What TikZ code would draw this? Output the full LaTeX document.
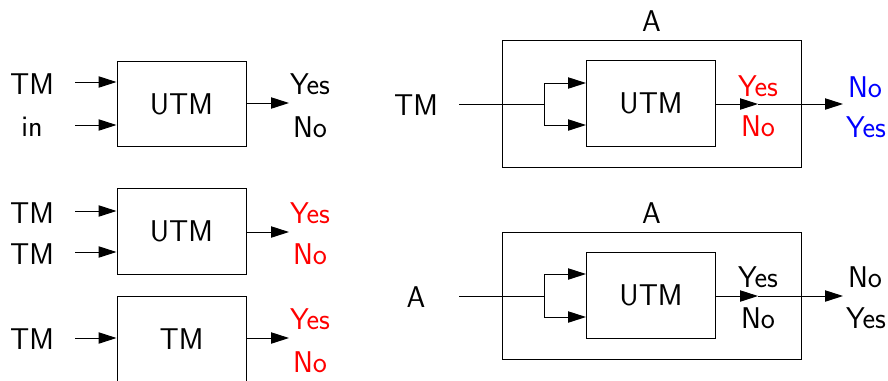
\documentclass[tikz,border=0pt]{standalone}
\usepackage{fontspec}
\usetikzlibrary{arrows.meta,positioning}

\begin{document}
\begin{tikzpicture}[
    x=0.75pt,y=-0.75pt,
    font=\sffamily\fontsize{22.5}{27}\selectfont,
    box/.style={draw,line width=0.75pt,inner sep=0pt},
    utm/.style={box,minimum width=96.75pt,minimum height=64pt},
    outer/.style={box,minimum width=224.25pt,minimum height=95.25pt},
    lbl/.style={inner sep=0pt},
    wire/.style={line width=0.75pt},
    arr/.style={-{Triangle[length=13.5pt,width=8.5pt]},line width=0.75pt},
  ]
    \clip (0,0) rectangle (888,380);

    % left column
    \node[utm] (utmA) at (181.5,104) {UTM};
    \node[utm] (utmB) at (181.5,231.5) {UTM};
    \node[box,minimum width=96.75pt,minimum height=90pt] (tmC) at (181.5,356) {};
    \node[lbl] (tmCtxt) at (181.5,339) {TM};

    \node[lbl] (tmA) at (32,84) {TM};
    \node[lbl] (inA) at (32,127) {in};
    \node[lbl] (tmB1) at (32,213) {TM};
    \node[lbl] (tmB2) at (32,254) {TM};
    \node[lbl] (tmC1) at (32,339) {TM};

    \coordinate (inA1) at (75,82);
    \coordinate (inA2) at (75,125);
    \coordinate (inB1) at (75,211);
    \coordinate (inB2) at (75,252);
    \coordinate (inC1) at (75,338);
    \draw[arr] (inA1) -- (inA1 -| utmA.west);
    \draw[arr] (inA2) -- (inA2 -| utmA.west);
    \draw[arr] (inB1) -- (inB1 -| utmB.west);
    \draw[arr] (inB2) -- (inB2 -| utmB.west);
    \draw[arr] (inC1) -- (inC1 -| tmC.west);

    \coordinate (outA) at (289,103);
    \coordinate (outB) at (289,232);
    \coordinate (outC) at (289,338);
    \draw[arr] (outA -| utmA.east) -- (outA);
    \draw[arr] (outB -| utmB.east) -- (outB);
    \draw[arr] (outC -| tmC.east) -- (outC);

    \node[lbl] (yesA) at (310,84) {Yes};
    \node[lbl] (noA) at (310,127) {No};
    \node[lbl,text=red] (yesB) at (310,213) {Yes};
    \node[lbl,text=red] (noB) at (310,254) {No};
    \node[lbl,text=red] (yesC) at (310,319) {Yes};
    \node[lbl,text=red] (noC) at (310,362) {No};

    % right, top
    \node[outer] (aTop) at (651.5,103.5) {};
    \node[lbl,above=6pt of aTop] (aTopLbl) {A};
    \node[utm] (utmD) at (651,103.5) {UTM};
    \node[lbl] (tmD) at (416,105) {TM};
    \coordinate (inD) at (459,104);
    \coordinate (brD1) at (544,83);
    \coordinate (brD2) at (544,125);
    \draw[wire] (inD) -- (inD -| brD1);
    \draw[wire] (brD1) -- (brD2);
    \draw[arr] (brD1) -- (brD1 -| utmD.west);
    \draw[arr] (brD2) -- (brD2 -| utmD.west);
    \coordinate (midD) at (758,104);
    \coordinate (outD) at (843,104);
    \draw[arr] (midD -| utmD.east) -- (midD);
    \draw[arr] (midD) -- (outD);
    \node[lbl,text=red] (yesD) at (758,86) {Yes};
    \node[lbl,text=red] (noD) at (758,126) {No};
    \node[lbl,text=blue] (noD2) at (865,87) {No};
    \node[lbl,text=blue] (yesD2) at (866,127) {Yes};

    % right, bottom
    \node[outer] (aBot) at (651.5,295.5) {};
    \node[lbl,above=6pt of aBot] (aBotLbl) {A};
    \node[utm] (utmE) at (651,295.5) {UTM};
    \node[lbl] (aE) at (416,297) {A};
    \coordinate (inE) at (459,296);
    \coordinate (brE1) at (544,274);
    \coordinate (brE2) at (544,317);
    \draw[wire] (inE) -- (inE -| brE1);
    \draw[wire] (brE1) -- (brE2);
    \draw[arr] (brE1) -- (brE1 -| utmE.west);
    \draw[arr] (brE2) -- (brE2 -| utmE.west);
    \coordinate (midE) at (758,296);
    \coordinate (outE) at (843,296);
    \draw[arr] (midE -| utmE.east) -- (midE);
    \draw[arr] (midE) -- (outE);
    \node[lbl] (yesE) at (758,277) {Yes};
    \node[lbl] (noE) at (758,318) {No};
    \node[lbl] (noE2) at (865,277) {No};
    \node[lbl] (yesE2) at (866,318) {Yes};
  \end{tikzpicture}
\end{document}
